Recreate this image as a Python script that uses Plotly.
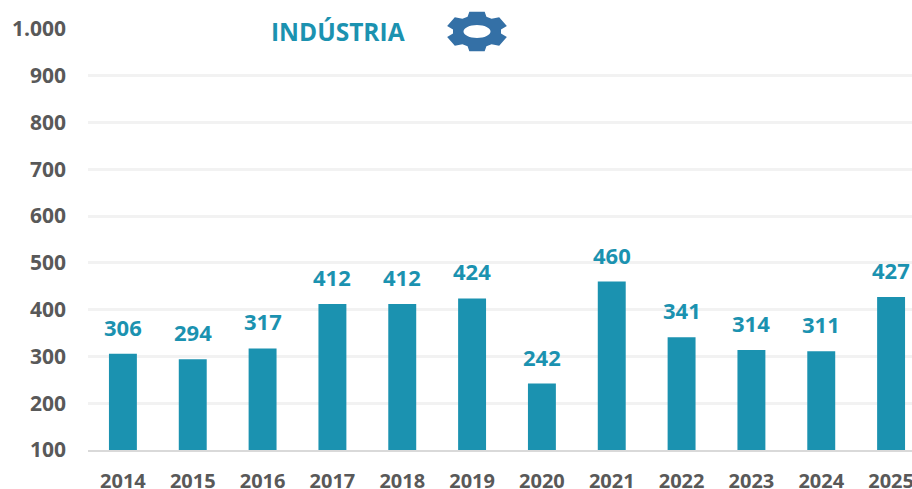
import math
import plotly.graph_objects as go

years = ["2014","2015","2016","2017","2018","2019","2020","2021","2022","2023","2024","2025"]
values = [306,294,317,412,412,424,242,460,341,314,311,427]
y_ticks = [100,200,300,400,500,600,700,800,900,1000]
y_labels = ["100","200","300","400","500","600","700","800","900","1.000"]

W, H = 926, 505
L, R, T, B = 88, 0, 29, 55
TEAL = "#1B92B0"
GREY = "#595959"
FONT = "Open Sans"

def px(x): return (x - L) / (W - L - R)
def py(y): return 1 - (y - T) / (H - T - B)

def gear_path(cx, cy, rx, ry, hx, hy, teeth=6):
    pts = []
    for i in range(teeth):
        a = 2 * math.pi * i / teeth + math.pi / 2
        for da, r in [(-0.40, 0.78), (-0.25, 1.0), (0.25, 1.0), (0.40, 0.78)]:
            t = a + da
            pts.append((cx + rx * r * math.cos(t), cy - ry * r * math.sin(t)))
    d = "M" + " L".join(f"{px(x):.5f},{py(y):.5f}" for x, y in pts) + " Z"
    hole = [(cx + hx * math.cos(2 * math.pi * k / 32), cy - hy * math.sin(2 * math.pi * k / 32)) for k in range(32)]
    d += " M" + " L".join(f"{px(x):.5f},{py(y):.5f}" for x, y in hole) + " Z"
    return d

labels = [dict(x=i, y=v, text=str(v), xref="x", yref="y", yanchor="middle", xanchor="center", yshift=27,
               showarrow=False, font=dict(family=FONT, size=22, color=TEAL, weight="bold"))
          for i, v in enumerate(values)]

fig = go.Figure(go.Bar(
    x=list(range(len(years))), y=[v - 100 for v in values], base=100,
    width=0.4, marker=dict(color=TEAL, line=dict(width=0)),
    hoverinfo="skip",
))
fig.update_layout(
    width=W, height=H, margin=dict(l=L, r=R, t=T, b=B, autoexpand=False),
    paper_bgcolor="white", plot_bgcolor="white", showlegend=False,
    xaxis=dict(range=[-0.5, 11.5], tickmode="array", tickvals=list(range(len(years))), ticktext=years,
               showgrid=False, zeroline=False, showline=True, linecolor="#D9D9D9", linewidth=2, ticks="",
               ticklabelstandoff=12,
               tickfont=dict(family=FONT, size=20, color=GREY, weight="bold")),
    yaxis=dict(range=[100, 1000], tickmode="array", tickvals=y_ticks, ticktext=y_labels,
               showgrid=True, gridcolor="#F2F2F2", gridwidth=2.5, zeroline=False, showline=False, ticks="",
               ticklabelstandoff=21,
               ticklen=0, tickfont=dict(family=FONT, size=21, color=GREY, weight="bold")),
    annotations=labels + [dict(text="INDÚSTRIA", xref="paper", yref="paper", x=px(337.5), y=py(31),
                      xanchor="center", yanchor="middle",
                      showarrow=False, font=dict(family=FONT, size=24.5, color=TEAL, weight="bold"))],
    shapes=[dict(type="path", xref="paper", yref="paper", path=gear_path(477, 31.5, 31, 20.5, 13.5, 6.5),
                 fillcolor="#3470A6", line=dict(width=0), fillrule="evenodd")],
)
fig.write_html("out.html", config={"displayModeBar": False},
               post_script="document.body.style.margin='0';document.documentElement.style.overflow='hidden';document.body.style.overflow='hidden';")
